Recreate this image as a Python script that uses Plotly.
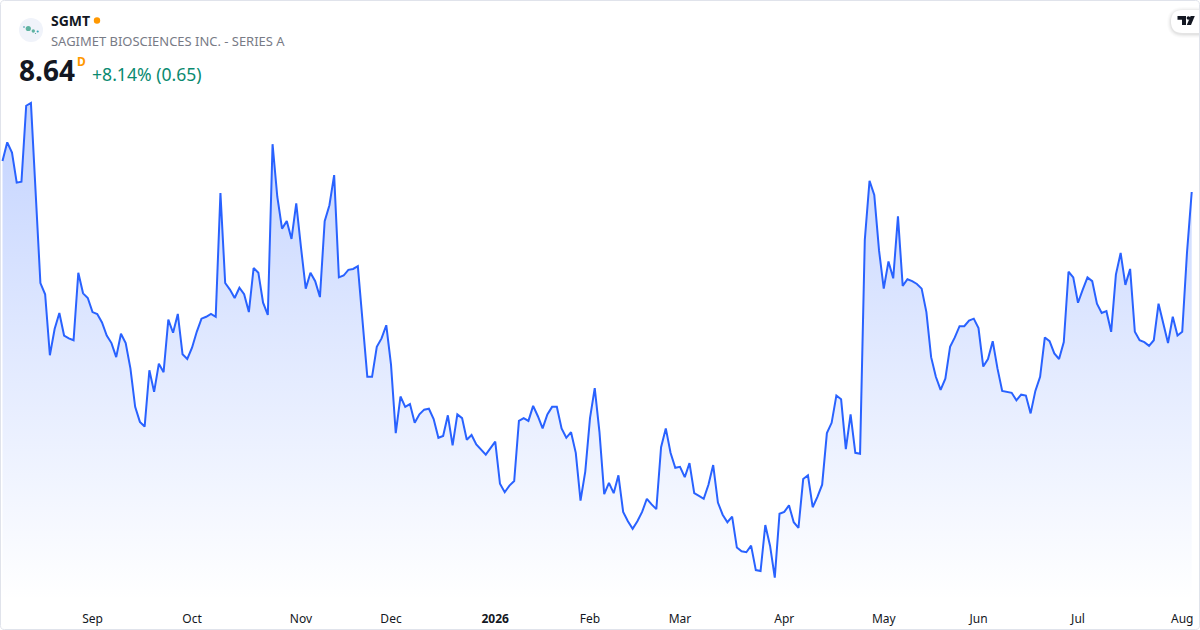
import pandas as pd
import plotly.graph_objects as go

TICKER = "SGMT"
NAME = "SAGIMET BIOSCIENCES INC. - SERIES A"
PRICE = "8.64"
CHANGE = "+8.14% (0.65)"

HOLIDAYS = ["2025-09-01", "2025-11-27", "2025-12-25", "2026-01-01", "2026-01-19",
            "2026-02-16", "2026-04-03", "2026-05-25", "2026-06-19", "2026-07-03"]
dates = [d.strftime("%Y-%m-%d") for d in pd.bdate_range("2025-08-05", "2026-08-05")
         if d.strftime("%Y-%m-%d") not in HOLIDAYS]

closes = [
    8.97, 9.17, 9.06, 8.74, 8.75, 9.56, 9.59, 8.66, 7.67, 7.55,
    6.90, 7.18, 7.35, 7.11, 7.08, 7.06, 7.78, 7.56, 7.51, 7.36,
    7.34, 7.25, 7.11, 7.03, 6.88, 7.13, 7.03, 6.76, 6.35, 6.19,
    6.14, 6.74, 6.51, 6.81, 6.72, 7.28, 7.14, 7.34, 6.91, 6.86,
    6.98, 7.15, 7.29, 7.31, 7.34, 7.31, 8.63, 7.67, 7.60, 7.51,
    7.62, 7.55, 7.36, 7.83, 7.78, 7.46, 7.33, 9.15, 8.59, 8.25,
    8.33, 8.14, 8.52, 8.05, 7.61, 7.78, 7.69, 7.52, 8.33, 8.50,
    8.82, 7.73, 7.75, 7.81, 7.82, 7.85, 7.25, 6.67, 6.67, 6.99,
    7.08, 7.22, 6.80, 6.07, 6.46, 6.35, 6.38, 6.18, 6.27, 6.32,
    6.33, 6.22, 6.02, 6.04, 6.26, 5.94, 6.27, 6.23, 6.00, 6.05,
    5.95, 5.90, 5.84, 5.91, 5.98, 5.53, 5.44, 5.51, 5.56, 6.20,
    6.23, 6.20, 6.36, 6.25, 6.12, 6.27, 6.35, 6.35, 6.12, 6.02,
    6.08, 5.86, 5.35, 5.66, 6.23, 6.55, 6.08, 5.42, 5.54, 5.43,
    5.62, 5.23, 5.13, 5.05, 5.13, 5.23, 5.37, 5.31, 5.26, 5.92,
    6.12, 5.86, 5.70, 5.71, 5.60, 5.75, 5.43, 5.40, 5.37, 5.52,
    5.73, 5.33, 5.20, 5.12, 5.18, 4.85, 4.81, 4.80, 4.87, 4.61,
    4.60, 5.09, 4.87, 4.53, 5.21, 5.23, 5.30, 5.12, 5.06, 5.58,
    5.62, 5.28, 5.39, 5.52, 6.07, 6.18, 6.47, 6.43, 5.90, 6.27,
    5.86, 5.85, 8.13, 8.76, 8.61, 8.02, 7.61, 7.90, 7.72, 8.38,
    7.64, 7.71, 7.69, 7.66, 7.61, 7.36, 6.88, 6.67, 6.53, 6.65,
    6.99, 7.09, 7.21, 7.21, 7.27, 7.29, 7.19, 6.78, 6.86, 7.05,
    6.76, 6.52, 6.51, 6.50, 6.42, 6.48, 6.47, 6.28, 6.52, 6.67,
    7.09, 7.05, 6.92, 6.86, 7.04, 7.79, 7.73, 7.46, 7.60, 7.73,
    7.69, 7.45, 7.35, 7.37, 7.15, 7.76, 7.99, 7.65, 7.82, 7.15,
    7.06, 7.04, 7.00, 7.06, 7.45, 7.25, 7.03, 7.31, 7.11, 7.15,
    7.99, 8.64,
]

tick_dates = ["2025-09-02", "2025-10-01", "2025-11-03", "2025-12-01", "2026-01-02", "2026-02-02",
              "2026-03-02", "2026-04-01", "2026-05-01", "2026-06-01", "2026-07-01", "2026-08-03"]
tick_labels = ["Sep", "Oct", "Nov", "Dec", "<b>2026</b>", "Feb", "Mar", "Apr", "May", "Jun", "Jul", "Aug"]

FONT = "Noto Sans"
W, H = 1200, 630
BOTTOM = 30


def px(x):
    return x / W


def py(y):
    return 1 - y / (H - BOTTOM)


fig = go.Figure()
fig.add_trace(go.Scatter(
    x=dates, y=closes, mode="lines",
    line=dict(color="#2962FF", width=2),
    fill="tozeroy",
    fillgradient=dict(
        type="vertical",
        start=4.29, stop=9.59,
        colorscale=[[0, "rgba(41,98,255,0.0)"], [1, "rgba(41,98,255,0.28)"]],
    ),
    hoverinfo="skip", showlegend=False,
))


def note(x, y, text, size, color, bold=False):
    fig.add_annotation(
        xref="paper", yref="paper", x=px(x), y=py(y), xanchor="left", yanchor="middle",
        showarrow=False, text=f"<b>{text}</b>" if bold else text, align="left",
        font=dict(family=FONT, size=size, color=color), yshift=0, xshift=0,
    )


note(49, 20.5, TICKER, 14, "#131722", True)
note(49, 40.5, NAME, 12.96, "#787B86")
note(17, 70.5, PRICE, 28, "#131722", True)
note(75, 61, "D", 12, "#FF9800", True)
note(90, 74.5, CHANGE, 17.6, "#0A8A70")


def circle(cx, cy, r, color):
    return dict(type="circle", xref="paper", yref="paper", layer="above",
                x0=px(cx - r), x1=px(cx + r), y0=py(cy + r), y1=py(cy - r),
                fillcolor=color, line=dict(width=0))


def path(d, fill=None, line=None, width=0):
    return dict(type="path", xref="paper", yref="paper", layer="above", path=d,
                fillcolor=fill or "rgba(0,0,0,0)",
                line=dict(color=line or "rgba(0,0,0,0)", width=width))


def P(pts):
    return "M" + " L".join(f"{px(x):.5f},{py(y):.5f}" for x, y in pts) + " Z"


def rrect(x0, y0, x1, y1, r):
    return (f"M{px(x0 + r):.5f},{py(y0):.5f} L{px(x1 - r):.5f},{py(y0):.5f} "
            f"Q{px(x1):.5f},{py(y0):.5f} {px(x1):.5f},{py(y0 + r):.5f} "
            f"L{px(x1):.5f},{py(y1 - r):.5f} Q{px(x1):.5f},{py(y1):.5f} {px(x1 - r):.5f},{py(y1):.5f} "
            f"L{px(x0 + r):.5f},{py(y1):.5f} Q{px(x0):.5f},{py(y1):.5f} {px(x0):.5f},{py(y1 - r):.5f} "
            f"L{px(x0):.5f},{py(y0 + r):.5f} Q{px(x0):.5f},{py(y0):.5f} {px(x0 + r):.5f},{py(y0):.5f} Z")


shapes = [
    circle(97, 20.5, 3.2, "#FF9800"),
    circle(31, 30, 12, "#F0F3FA"),
    circle(28.3, 28.5, 2.6, "#5FB3A1"),
    circle(33.3, 31, 1.7, "#5FB3A1"),
    circle(37.7, 31.5, 1.1, "#3AA6B5"),
    circle(24, 27, 1, "#7FB8C4"),
    circle(35.5, 33.5, 0.6, "#5FA0A0"),
]
# logo pill with soft shadow
for grow, alpha in [(4, 0.015), (3, 0.02), (2, 0.03), (1, 0.04)]:
    shapes.append(path(rrect(1171 - grow, 10 - grow + 1, 1212, 33 + grow + 1, 12 + grow),
                       fill=f"rgba(0,0,0,{alpha})"))
shapes.append(path(rrect(1171, 10, 1212, 33, 11.5), fill="#FFFFFF"))
shapes.append(path(P([(1177.5, 16), (1186, 16), (1186, 25), (1182, 25), (1182, 19.7), (1177.5, 19.7)]), fill="#131722"))
shapes.append(circle(1188.4, 18, 1.8, "#131722"))
shapes.append(path(P([(1190.6, 16), (1194.8, 16), (1191, 25), (1186.8, 25)]), fill="#131722"))
# card border
shapes.append(path(rrect(0.5, 0.5, 1199.5, 629.5, 4), line="#E0E3EB", width=1))

fig.update_layout(
    width=W, height=H,
    margin=dict(l=0, r=0, t=0, b=BOTTOM),
    paper_bgcolor="#FFFFFF", plot_bgcolor="#FFFFFF",
    font=dict(family=FONT, size=12, color="#131722"),
    shapes=shapes,
    xaxis=dict(
        type="category", categoryorder="array", categoryarray=dates,
        range=[-0.528, 252.75], tickmode="array", tickvals=tick_dates, ticktext=tick_labels,
        showgrid=False, zeroline=False, showline=False, ticks="", ticklen=0, ticklabelstandoff=10,
        tickfont=dict(family=FONT, size=12, color="#131722"), fixedrange=True,
    ),
    yaxis=dict(range=[4.291, 10.687], visible=False, fixedrange=True),
)

fig.write_html("out.html", config={"displayModeBar": False},
               post_script="document.body.style.margin='0';")
